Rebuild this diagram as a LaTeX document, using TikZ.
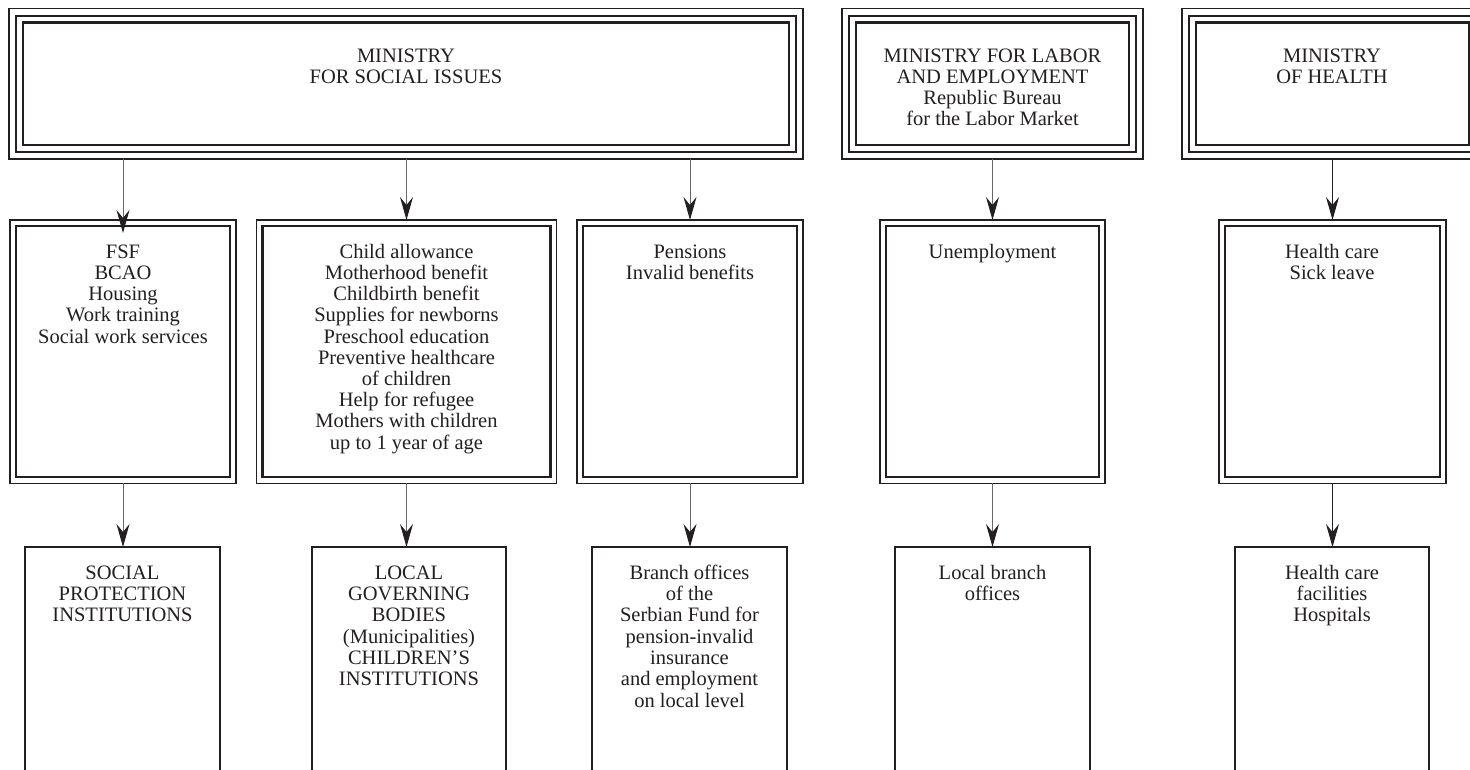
\documentclass[tikz,border=0pt]{standalone}
\usepackage{fontspec}
\setmainfont{Liberation Serif}
\usetikzlibrary{arrows.meta}
\definecolor{ink}{HTML}{231F20}
\tikzset{
  tribox/.style={draw=ink, line width=1.4pt, rectangle, inner sep=0pt, outer sep=0pt,
    path picture={
      \draw[ink, line width=2pt] ([shift={(7pt,7pt)}]path picture bounding box.south west) rectangle ([shift={(-7pt,-7pt)}]path picture bounding box.north east);
      \draw[ink, line width=2.2pt] ([shift={(14pt,14pt)}]path picture bounding box.south west) rectangle ([shift={(-14pt,-14pt)}]path picture bounding box.north east);
    }},
  dbbox/.style={draw=ink, line width=1.3pt, rectangle, inner sep=0pt, outer sep=0pt,
    path picture={
      \draw[ink, line width=2.3pt] ([shift={(6pt,6pt)}]path picture bounding box.south west) rectangle ([shift={(-6pt,-6pt)}]path picture bounding box.north east);
    }},
  sbox/.style={draw=ink, line width=2.2pt, rectangle, inner sep=0pt, outer sep=0pt},
  lbl/.style={anchor=north, align=center, inner sep=0pt, text=ink, font=\fontsize{20.5}{21}\selectfont},
  lblm/.style={lbl, font=\fontsize{20.5}{21.2}\selectfont},
  lblb/.style={lbl, font=\fontsize{20.5}{21.3}\selectfont},
  conn/.style={draw=black!60, line width=1pt, -{Stealth[length=23pt,width=13pt,inset=8pt,color=ink]}},
}
\begin{document}
\begin{tikzpicture}[x=1pt,y=-1pt]
\useasboundingbox (0,0) rectangle (1470,769);
\clip (0,0) rectangle (1470,769);
% top row
\node[tribox, minimum width=794pt, minimum height=150.5pt] (t1) at (406,83.75) {};
\node[tribox, minimum width=301pt, minimum height=150.5pt] (t2) at (992.5,83.75) {};
\node[tribox, minimum width=301pt, minimum height=150.5pt] (t3) at (1332.5,83.75) {};
% middle row
\node[dbbox, minimum width=226pt, minimum height=263.3pt] (m1) at (123,351.65) {};
\node[dbbox, minimum width=300pt, minimum height=263.3pt] (m2) at (406.5,351.65) {};
\node[dbbox, minimum width=226pt, minimum height=263.3pt] (m3) at (690,351.65) {};
\node[dbbox, minimum width=225pt, minimum height=263.3pt] (m4) at (992.5,351.65) {};
\node[dbbox, minimum width=227pt, minimum height=263.3pt] (m5) at (1332.5,351.65) {};
% bottom row (open at the bottom edge of the picture)
\node[sbox, minimum width=195pt, minimum height=300pt] (b1) at (122.5,697) {};
\node[sbox, minimum width=194pt, minimum height=300pt] (b2) at (409,697) {};
\node[sbox, minimum width=195pt, minimum height=300pt] (b3) at (689.5,697) {};
\node[sbox, minimum width=195pt, minimum height=300pt] (b4) at (992.5,697) {};
\node[sbox, minimum width=194pt, minimum height=300pt] (b5) at (1332,697) {};
% texts
\node[lbl] (t1txt) at (406,47.8) {\strut MINISTRY\\FOR SOCIAL ISSUES};
\node[lbl] (t2txt) at (992.5,47.3) {\strut MINISTRY FOR LABOR\\AND EMPLOYMENT\\Republic Bureau\\for the Labor Market};
\node[lbl] (t3txt) at (1332,47.8) {\strut MINISTRY\\OF HEALTH};
\node[lblm] (m1txt) at (123,243.2) {\strut FSF\\BCAO\\Housing\\Work training\\Social work services};
\node[lblm] (m2txt) at (406.5,243.2) {\strut Child allowance\\Motherhood benefit\\Childbirth benefit\\Supplies for newborns\\Preschool education\\Preventive healthcare\\of children\\Help for refugee\\Mothers with children\\up to 1 year of age};
\node[lblm] (m3txt) at (690,243.2) {\strut Pensions\\Invalid benefits};
\node[lblm] (m4txt) at (992.5,243.2) {\strut Unemployment};
\node[lblm] (m5txt) at (1332,243.2) {\strut Health care\\Sick leave};
\node[lblb] (b1txt) at (122.5,564.1) {\strut SOCIAL\\PROTECTION\\INSTITUTIONS};
\node[lblb] (b2txt) at (409,564.1) {\strut LOCAL\\GOVERNING\\BODIES\\(Municipalities)\\CHILDREN’S\\INSTITUTIONS};
\node[lblb] (b3txt) at (689.5,564.1) {\strut Branch offices\\of the\\Serbian Fund for\\pension-invalid\\insurance\\and employment\\on local level};
\node[lblb] (b4txt) at (992.5,564.1) {\strut Local branch\\offices};
\node[lblb] (b5txt) at (1332,564.1) {\strut Health care\\facilities\\Hospitals};
% connectors
\draw[conn, shorten >=-13pt] (t1.south -| m1.north) -- (m1.north);
\draw[conn] (t1.south -| m2.north) -- (m2.north);
\draw[conn] (t1.south -| m3.north) -- (m3.north);
\draw[conn] (t2.south) -- (t2.south |- m4.north);
\draw[conn, draw=ink] (t3.south) -- (t3.south |- m5.north);
\draw[conn] (m1.south) -- (m1.south |- b1.north);
\draw[conn] (m2.south) -- (m2.south |- b2.north);
\draw[conn] (m3.south) -- (m3.south |- b3.north);
\draw[conn] (m4.south) -- (m4.south |- b4.north);
\draw[conn, draw=ink] (m5.south) -- (m5.south |- b5.north);
\end{tikzpicture}
\end{document}
